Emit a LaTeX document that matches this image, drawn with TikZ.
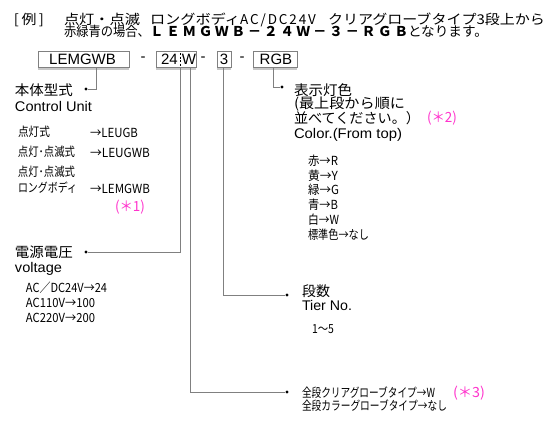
\documentclass[tikz,border=0pt]{standalone}
\usepackage{fontspec}
\usepackage{graphicx}
\setmainfont{Liberation Sans}
\newfontfamily\jp{Noto Sans CJK JP}
\newcommand\tw[2]{\resizebox{#1}{\height}{#2}}
\definecolor{mag}{HTML}{FF33CC}
\definecolor{ln}{HTML}{808080}
\definecolor{lbar}{HTML}{C8C8C8}
\begin{document}
\begin{tikzpicture}[x=1pt,y=-1pt,
  lbl/.style={anchor=west,inner sep=0pt,outer sep=0pt},
  hd/.style={lbl,font=\jp\fontsize{13.5}{13.5}\selectfont,text height=11.4pt,text depth=1.3pt},
  hdb/.style={lbl,font=\jp\bfseries\fontsize{13.5}{13.5}\selectfont,text height=11.4pt,text depth=1.3pt},
  big/.style={lbl,font=\jp\fontsize{14}{14}\selectfont,text height=11.9pt,text depth=1.4pt},
  eng/.style={lbl,font=\fontsize{14}{14}\selectfont,text height=11.9pt,text depth=1.4pt},
  lst/.style={lbl,font=\jp\fontsize{12.5}{12.5}\selectfont,text height=10.6pt,text depth=1.25pt},
  note/.style={lbl,font=\jp\fontsize{14}{14}\selectfont,text=mag,text height=11.9pt,text depth=1.4pt},
  codebox/.style={draw=ln,line width=.8pt,minimum height=16pt,inner sep=0pt},
  codetxt/.style={inner sep=0pt,font=\fontsize{15}{15}\selectfont},
  conn/.style={draw=ln,line width=.9pt},
  dotn/.style={circle,fill=black,inner sep=0pt,minimum size=3.2pt},
  bar/.style={draw=lbar,line width=1.6pt}
]
\useasboundingbox (0,0) rectangle (560,428);
% header
\node[hd] (h0) at (14,19) {\tw{30pt}{[\,例\,]}};
\node[hd] (h1) at (64,19) {\tw{76pt}{点灯・点滅}};
\node[hd] (h2) at (150,19) {\tw{90pt}{ロングボディ}};
\node[hd] (h3) at (240,19) {\makebox[76pt][s]{A\hfil C\hfil /\hfil D\hfil C\hfil 2\hfil 4\hfil V}};
\node[hd] (h4) at (328,19) {\tw{217pt}{クリアグローブタイプ3段上から}};
\node[hd] (h5) at (64,31.5) {\tw{86pt}{赤緑青の場合、}};
\node[hdb] (h6) at (150,31.5) {\makebox[258pt][s]{Ｌ\hfil Ｅ\hfil Ｍ\hfil Ｇ\hfil Ｗ\hfil Ｂ\hfil －\hfil ２\hfil ４\hfil Ｗ\hfil －\hfil ３\hfil －\hfil Ｒ\hfil Ｇ\hfil Ｂ}};
\node[hd] (h7) at (408,31.5) {\tw{80pt}{となります。}};
% code boxes
\node[codebox,minimum width=91pt] (b1) at (83.5,59) {};
\node[codetxt] (t1) at (82.5,59.5) {LEMGWB};
\node[codetxt] (m1) at (143,59.5) {-};
\node[codebox,minimum width=40pt] (b2) at (176,59) {};
\node[codetxt] (t2a) at (169.5,59.5) {24};
\node[codetxt] (t2b) at (189,59.5) {W};
\draw[black,line width=.8pt,dash pattern=on 2pt off 1.5pt] (b2.north -| 180,0) ++(0,2.5) coordinate (s1) -- (s1 |- b2.south) ;
\node[codetxt] (m2) at (203,59.5) {-};
\node[codebox,minimum width=14pt] (b3) at (224,59) {};
\node[codetxt] (t3) at (224,59.5) {3};
\node[codetxt] (m3) at (242,59.5) {-};
\node[codebox,minimum width=44pt] (b4) at (275,59) {};
\node[codetxt] (t4) at (276,59.5) {RGB};
\foreach \b in {b1,b2,b3,b4}{\draw[bar] ([yshift=-1.6pt]\b.south west) -- ([yshift=-1.6pt]\b.south east);}
% dots
\node[dotn] (d1) at (86,89) {};
\node[dotn] (d2) at (86,252) {};
\node[dotn] (d3) at (282,87) {};
\node[dotn] (d4) at (287,295) {};
\node[dotn] (d5) at (287,392) {};
% connectors
\draw[conn] ([xshift=12.5pt]b1.south) |- (d1);
\draw[conn] ([xshift=4pt]b2.south) |- (d2);
\draw[conn] ([xshift=14pt]b2.south) |- (d5);
\draw[conn] ([xshift=-1pt]b3.south) |- (d4);
\draw[conn] ([xshift=-2pt]b4.south) |- (d3);
% control unit
\node[big] (cu1) at (15,90) {\tw{58pt}{本体型式}};
\node[eng] (cu2) at (15,106) {\tw{77pt}{Control Unit}};
\node[lst] (cu3) at (18,132) {\tw{32pt}{点灯式}};
\node[lst] (cu4) at (90,133) {\tw{48pt}{→LEUGB}};
\node[lst] (cu5) at (18,152) {\tw{57pt}{点灯･点滅式}};
\node[lst] (cu6) at (90,153) {\tw{60pt}{→LEUGWB}};
\node[lst] (cu7) at (18,172) {\tw{57pt}{点灯･点滅式}};
\node[lst] (cu8) at (18,188) {\tw{59pt}{ロングボディ}};
\node[lst] (cu9) at (90,189) {\tw{60pt}{→LEMGWB}};
\node[note] (n1) at (115,206) {\tw{30pt}{(＊1)}};
% voltage
\node[big] (v1) at (15,252) {\tw{58pt}{電源電圧}};
\node[eng] (v2) at (15,267) {\tw{47pt}{voltage}};
\node[lst] (v3) at (26,288) {\tw{81pt}{AC／DC24V→24}};
\node[lst] (v4) at (26,303) {\tw{69pt}{AC110V→100}};
\node[lst] (v5) at (26,318) {\tw{69pt}{AC220V→200}};
% colour
\node[big] (c1) at (294,90) {\tw{58pt}{表示灯色}};
\node[big] (c2) at (294,103) {\tw{111pt}{(最上段から順に}};
\node[big] (c3) at (294,118) {\tw{126pt}{並べてください。）}};
\node[note] (n2) at (427,117) {\tw{30pt}{(＊2)}};
\node[eng] (c4) at (294,133) {\tw{108pt}{Color.(From top)}};
\node[lst] (c5) at (308,161) {\tw{30pt}{赤→R}};
\node[lst] (c6) at (308,175.5) {\tw{30pt}{黄→Y}};
\node[lst] (c7) at (308,190) {\tw{31pt}{緑→G}};
\node[lst] (c8) at (308,205) {\tw{30pt}{青→B}};
\node[lst] (c9) at (308,220) {\tw{31pt}{白→W}};
\node[lst] (c10) at (308,235) {\tw{61pt}{標準色→なし}};
% tier
\node[big] (r1) at (302,291) {\tw{28pt}{段数}};
\node[eng] (r2) at (302,305) {\tw{50pt}{Tier No.}};
\node[lst] (r3) at (312,329) {\tw{22pt}{1～5}};
% globe
\node[lst] (g1) at (302,393) {\tw{133pt}{全段クリアグローブタイプ→W}};
\node[lst] (g2) at (302,406) {\tw{145pt}{全段カラーグローブタイプ→なし}};
\node[note] (n3) at (453,392) {\tw{32pt}{(＊3)}};
\end{tikzpicture}
\end{document}
